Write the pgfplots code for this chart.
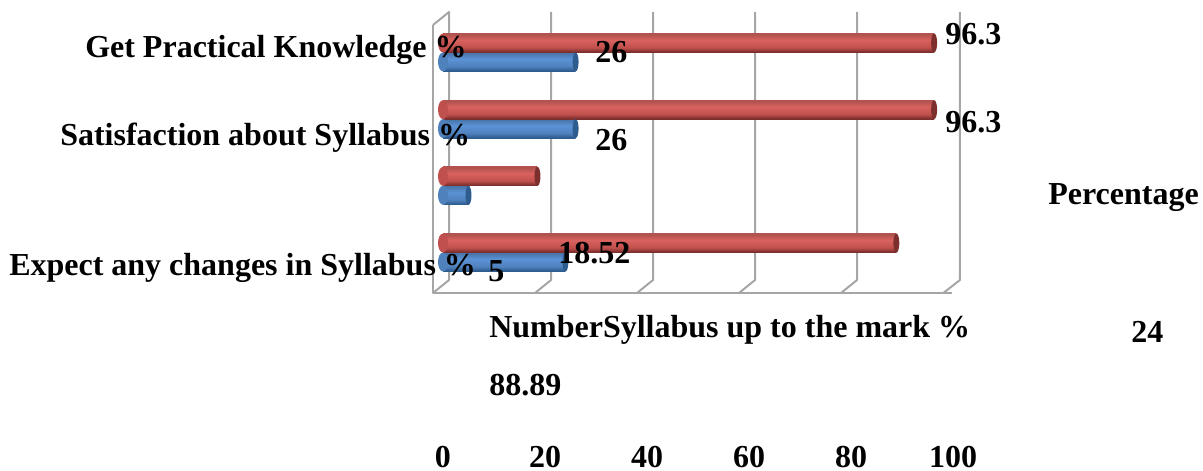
\documentclass[border=0pt]{standalone}
\usepackage{pgfplots}
\pgfplotsset{compat=1.18}
\usepackage{fontspec}
\setmainfont{Liberation Serif}
\definecolor{gridg}{HTML}{A6A6A6}
\definecolor{rdark}{HTML}{7D2F2D}
\definecolor{rmid}{HTML}{C0504D}
\definecolor{rlight}{HTML}{D9625E}
\definecolor{rtop}{HTML}{B25350}
\definecolor{bdark}{HTML}{2F5C8F}
\definecolor{bmid}{HTML}{4F81BD}
\definecolor{blight}{HTML}{5B93D6}
\definecolor{btop}{HTML}{4A76AC}
\pgfdeclareverticalshading{redcyl}{100bp}{color(0bp)=(rdark);color(27bp)=(rdark);color(38bp)=(rmid);color(58bp)=(rlight);color(72bp)=(rtop);color(100bp)=(rtop)}
\pgfdeclareverticalshading{bluecyl}{100bp}{color(0bp)=(bdark);color(27bp)=(bdark);color(38bp)=(bmid);color(58bp)=(blight);color(72bp)=(btop);color(100bp)=(btop)}
\pgfdeclareplotmark{endcap}{\pgfpathellipse{\pgfpointorigin}{\pgfqpoint{2.25pt}{0pt}}{\pgfqpoint{0pt}{7.1pt}}\pgfusepathqfill}
\pgfdeclareplotmark{startcap}{\pgfpathellipse{\pgfpointorigin}{\pgfqpoint{3.75pt}{0pt}}{\pgfqpoint{0pt}{7.1pt}}\pgfusepathqfill}
\pgfplotstableread{
val pos
88.89 1.142
18.52 2.142
96.3 3.142
96.3 4.142
}\redtab
\pgfplotstableread{
val pos
24 0.858
5 1.858
26 2.858
26 3.858
}\bluetab
\pgfplotstableread{
val pos
0 1.142
0 2.142
0 3.142
0 4.142
}\redstart
\pgfplotstableread{
val pos
0 0.858
0 1.858
0 2.858
0 3.858
}\bluestart
\newcommand{\txt}[3]{\node[anchor=base west,inner sep=0pt,font=\fontsize{24}{28}\selectfont\bfseries] at ({(#1-443)*0.75pt},{(293-#2)*0.75pt}) {#3};}
\begin{document}
\begin{tikzpicture}
\path[use as bounding box] ({-443*0.75pt},{-178*0.75pt}) rectangle ({760*0.75pt},{293*0.75pt});
\begin{axis}[
  scale only axis, width=382.5pt, height=201pt,
  xmin=0, xmax=100, ymin=0.393, ymax=4.411,
  clip=false,
  axis line style={draw=none},
  tick style={draw=none},
  xtick={0,20,40,60,80,100},
  ytick=\empty,
  /pgf/number format/assume math mode=true,
  xticklabel style={font=\fontsize{24}{28}\selectfont\bfseries, anchor=base, yshift=-130.5pt},
  every axis plot/.append style={line join=round},
  bluebar/.style={xbar, bar shift=0pt, bar width=14.25pt, draw=none, shading=bluecyl},
  redbar/.style={xbar, bar shift=0pt, bar width=14.25pt, draw=none, shading=redcyl},
]
% walls and grid lines
\addplot[gridg, line width=1.5pt] coordinates {(-1.96,4.411)(-1.96,0.393)(99.9,0.393)};
\addplot[gridg, line width=1.5pt] coordinates {(-1.96,4.411)(1.18,4.606)(1.18,0.588)(-1.96,0.393)};
\addplot[gridg, line width=1.5pt] coordinates {(21.18,4.606)(21.18,0.588)(18.04,0.393)};
\addplot[gridg, line width=1.5pt] coordinates {(41.18,4.606)(41.18,0.588)(38.04,0.393)};
\addplot[gridg, line width=1.5pt] coordinates {(61.18,4.606)(61.18,0.588)(58.04,0.393)};
\addplot[gridg, line width=1.5pt] coordinates {(81.18,4.606)(81.18,0.588)(78.04,0.393)};
\addplot[gridg, line width=1.5pt] coordinates {(101.37,4.606)(101.37,0.588)(98.1,0.393)};
% blue
\addplot[only marks, mark=startcap, mark options={fill=bmid}, draw=none] table[x=val,y=pos]{\bluestart};
\addplot[bluebar] coordinates {(24,0.858)};
\addplot[bluebar] coordinates {(5,1.858)};
\addplot[bluebar] coordinates {(26,2.858)};
\addplot[bluebar] coordinates {(26,3.858)};
\addplot[only marks, mark=endcap, mark options={fill=bdark}, draw=none] table[x=val,y=pos]{\bluetab};
% red
\addplot[only marks, mark=startcap, mark options={fill=rmid}, draw=none] table[x=val,y=pos]{\redstart};
\addplot[redbar] coordinates {(88.89,1.142)};
\addplot[redbar] coordinates {(18.52,2.142)};
\addplot[redbar] coordinates {(96.3,3.142)};
\addplot[redbar] coordinates {(96.3,4.142)};
\addplot[only marks, mark=endcap, mark options={fill=rdark}, draw=none] table[x=val,y=pos]{\redtab};
\end{axis}
\txt{85}{58}{Get Practical Knowledge \%}
\txt{60}{146}{Satisfaction about Syllabus \%}
\txt{9}{276}{Expect any changes in Syllabus \%}
\txt{945}{45}{96.3}
\txt{945}{133}{96.3}
\txt{595}{63}{26}
\txt{595}{151}{26}
\txt{558}{264}{18.52}
\txt{488}{282}{5}
\txt{1048}{205}{Percentage}
\txt{1131}{342}{24}
\txt{489}{337}{NumberSyllabus up to the mark \%}
\txt{489}{395}{88.89}
\end{tikzpicture}
\end{document}
